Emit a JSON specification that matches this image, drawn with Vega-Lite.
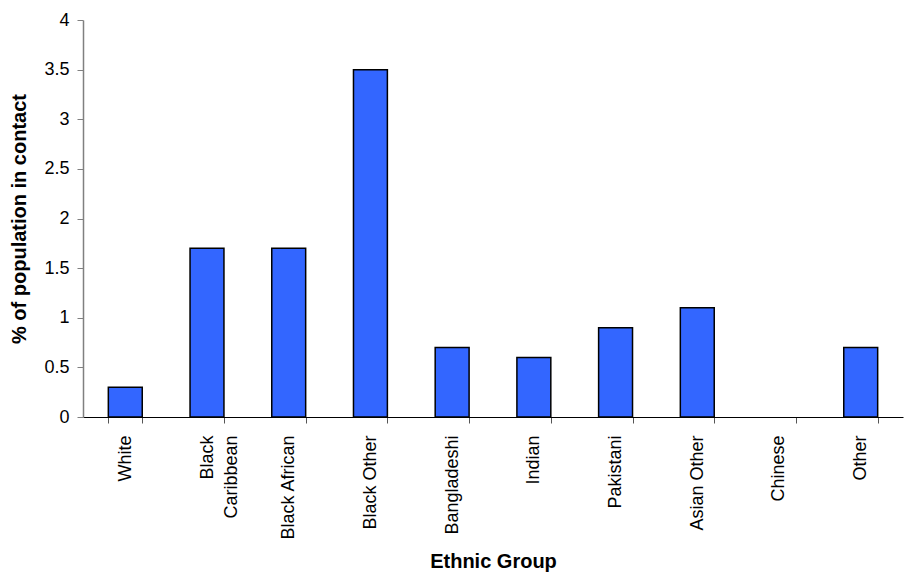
{
  "$schema": "https://vega.github.io/schema/vega-lite/v6.json",
  "autosize": "none",
  "width": 820,
  "height": 397,
  "padding": {"left": 83, "top": 20, "right": 1, "bottom": 157},
  "background": "white",
  "config": {
    "view": {"stroke": null},
    "font": "Liberation Sans"
  },
  "data": {
    "values": [
      {"group": "White", "pct": 0.3},
      {"group": "Black Caribbean", "pct": 1.7},
      {"group": "Black African", "pct": 1.7},
      {"group": "Black Other", "pct": 3.5},
      {"group": "Bangladeshi", "pct": 0.7},
      {"group": "Indian", "pct": 0.6},
      {"group": "Pakistani", "pct": 0.9},
      {"group": "Asian Other", "pct": 1.1},
      {"group": "Chinese", "pct": 0},
      {"group": "Other", "pct": 0.7}
    ]
  },
  "mark": {"type": "bar", "color": "#3366FF", "stroke": "black", "strokeWidth": 1.5},
  "encoding": {
    "x": {
      "field": "group",
      "type": "nominal",
      "sort": null,
      "scale": {"paddingInner": 0.585, "paddingOuter": 0.31},
      "axis": {
        "title": "Ethnic Group",
        "titleFont": "Liberation Sans",
        "titleFontSize": 20,
        "titleFontWeight": "bold",
        "titleColor": "black",
        "titlePadding": 11,
        "labelAngle": -90,
        "labelFont": "Liberation Sans",
        "labelFontSize": 18,
        "labelColor": "black",
        "labelPadding": 12,
        "labelExpr": "datum.label == 'Black Caribbean' ? ['Black', 'Caribbean'] : datum.label",
        "labelLineHeight": 24,
        "tickBand": "extent",
        "tickColor": "#555555",
        "tickSize": 6,
        "domainColor": "black",
        "grid": false
      }
    },
    "y": {
      "field": "pct",
      "type": "quantitative",
      "scale": {"domain": [0, 4]},
      "axis": {
        "title": "% of population in contact",
        "titleFont": "Liberation Sans",
        "titleFontSize": 20,
        "titleFontWeight": "bold",
        "titleColor": "black",
        "titlePadding": 14,
        "values": [0, 0.5, 1, 1.5, 2, 2.5, 3, 3.5, 4],
        "format": "~g",
        "labelFont": "Liberation Sans",
        "labelFontSize": 18,
        "labelColor": "black",
        "labelPadding": 8,
        "tickColor": "#808080",
        "tickSize": 6,
        "domainColor": "#808080",
        "domainWidth": 1.5,
        "grid": false
      }
    },
    "strokeOpacity": {"condition": {"test": "datum.pct == 0", "value": 0}, "value": 1}
  }
}
